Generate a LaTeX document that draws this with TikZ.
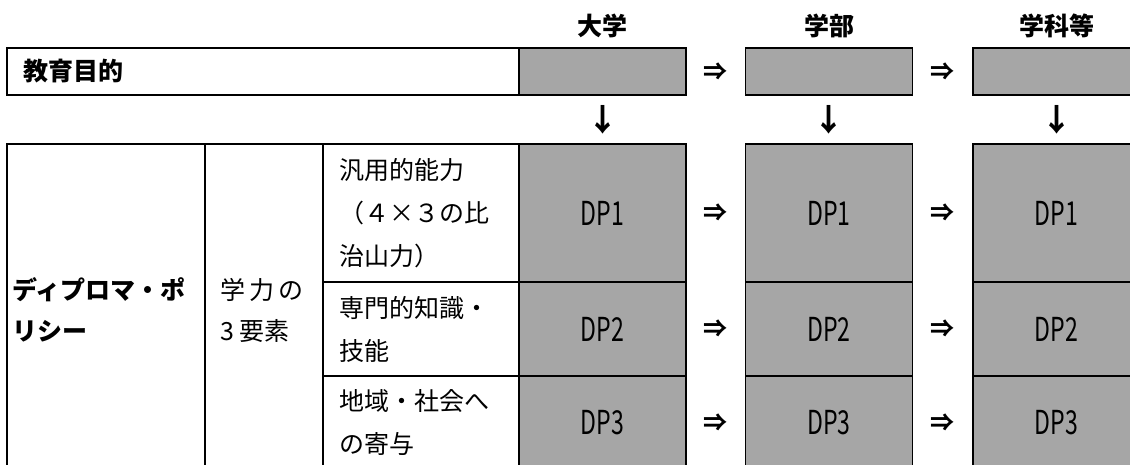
\documentclass[tikz,border=0pt]{standalone}
\usepackage{fontspec}
\usetikzlibrary{calc}
\newfontfamily\jp{Noto Sans CJK JP}
\newfontfamily\dpfont{Noto Sans CJK JP}[FakeStretch=0.7]
\definecolor{boxgray}{HTML}{A6A6A6}
\tikzset{
  box/.style={draw=black, line width=1.6pt, inner sep=0pt, outer sep=0pt, anchor=north west},
  graybox/.style={box, fill=boxgray, minimum width=167pt},
  jptext/.style={font=\jp\fontsize{25}{43}\selectfont, inner sep=0pt, align=left, anchor=west},
  headtext/.style={font=\jp\bfseries\fontsize{25}{25}\selectfont, inner sep=0pt},
  dptext/.style={font=\dpfont\fontsize{33}{33}\selectfont, inner sep=0pt},
  arrowtext/.style={font=\jp\bfseries\fontsize{24}{24}\selectfont, inner sep=0pt},
  downtext/.style={font=\jp\bfseries\fontsize{31}{31}\selectfont, inner sep=0pt},
}
\begin{document}
\begin{tikzpicture}[x=1pt, y=-1pt]
\useasboundingbox (0,0) rectangle (1130,465);
\clip (0,0) rectangle (1130,465);
% top row
\node[box, minimum width=512pt, minimum height=47pt] (edu) at (7,48) {};
\node[graybox, minimum height=47pt] (u0) at (519,48) {};
\node[graybox, minimum height=47pt] (u1) at (745.5,48) {};
\node[graybox, minimum height=47pt] (u2) at (973,48) {};
\node[jptext, font=\jp\bfseries\fontsize{25}{25}\selectfont] (edut) at ([xshift=16pt]edu.west) {教育目的};
% headers
\node[headtext] (h0) at ([yshift=22pt]u0.north) {大学};
\node[headtext] (h1) at ([yshift=22pt]u1.north) {学部};
\node[headtext] (h2) at ([yshift=22pt]u2.north) {学科等};
% bottom table
\node[box, minimum width=198pt, minimum height=326pt] (dpp) at (7,144) {};
\node[box, minimum width=118pt, minimum height=326pt] (elem) at (205,144) {};
\node[box, minimum width=196pt, minimum height=138pt] (c1) at (323,144) {};
\node[box, minimum width=196pt, minimum height=94pt] (c2) at (323,282) {};
\node[box, minimum width=196pt, minimum height=94pt] (c3) at (323,376) {};
\foreach \i/\x in {0/519, 1/745.5, 2/973} {
  \node[graybox, minimum height=138pt] (a\i) at (\x,144) {};
  \node[graybox, minimum height=94pt] (b\i) at (\x,282) {};
  \node[graybox, minimum height=94pt] (d\i) at (\x,376) {};
  \node[dptext] (a\i t) at (a\i.center) {DP1};
  \node[dptext] (b\i t) at (b\i.center) {DP2};
  \node[dptext] (d\i t) at (d\i.center) {DP3};
  \node[downtext] (v\i) at ($(u\i.south)!0.5!(a\i.north)$) {↓};
}
% texts
\node[jptext, font=\jp\bfseries\fontsize{25}{41}\selectfont] (dppt) at ([xshift=5pt, yshift=-3pt]dpp.west) {ディプロマ・ポ\\リシー};
\node[jptext, font=\jp\fontsize{25}{41}\selectfont] (elemt) at ([xshift=15pt, yshift=-3pt]elem.west) {学\hspace{4pt}力\hspace{4pt}の\\3 要素};
\node[jptext] (c1t) at ([xshift=16pt]c1.west) {汎用的能力\\（４×３の比\\治山力）};
\node[jptext] (c2t) at ([xshift=16pt]c2.west) {専門的知識・\\技能};
\node[jptext] (c3t) at ([xshift=16pt]c3.west) {地域・社会へ\\の寄与};
% horizontal arrows
\node[arrowtext] (r0) at ($(u0.east)!0.5!(u1.west)$) {⇒};
\node[arrowtext] (r1) at ($(u1.east)!0.5!(u2.west)$) {⇒};
\foreach \r in {a,b,d} {
  \node[arrowtext] (\r r0) at ($(\r0.east)!0.5!(\r1.west)$) {⇒};
  \node[arrowtext] (\r r1) at ($(\r1.east)!0.5!(\r2.west)$) {⇒};
}
\end{tikzpicture}
\end{document}
